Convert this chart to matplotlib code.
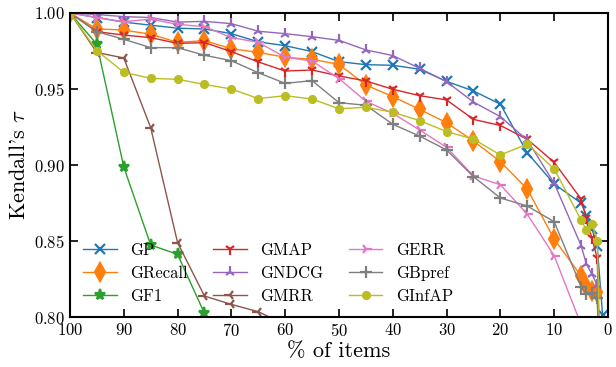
import matplotlib
matplotlib.use("Agg")
import matplotlib.pyplot as plt

# --- Data ---
pct = [100, 95, 90, 85, 80, 75, 70, 65, 60, 55, 50, 45, 40, 35, 30, 25, 20, 15, 10, 5, 4, 3, 2, 1]

gp = [1.0, 0.997, 0.994, 0.992, 0.990, 0.9895, 0.9864, 0.981, 0.9785, 0.9746, 0.968, 0.966, 0.9656, 0.963,
      0.955, 0.9487, 0.940, 0.908, 0.8875, 0.875, 0.8667, 0.858, 0.8467, 0.801]
grecall = [1.0, 0.9895, 0.9888, 0.986, 0.9807, 0.9818, 0.9765, 0.9741, 0.9709, 0.9695, 0.9662, 0.9526, 0.945,
           0.9366, 0.9278, 0.9158, 0.9022, 0.8842, 0.8513, 0.827, 0.8206, 0.8173, 0.8164, 0.70]
gf1 = [1.0, 0.9794, 0.8987, 0.8474, 0.8412, 0.8024, 0.70, 0.65, 0.60, 0.55, 0.50, 0.45, 0.40, 0.35,
       0.30, 0.25, 0.20, 0.15, 0.10, 0.05, 0.04, 0.03, 0.02, 0.01]
gmap = [1.0, 0.9877, 0.9855, 0.9838, 0.980, 0.9805, 0.9746, 0.9678, 0.9618, 0.9625, 0.9586, 0.9553, 0.9498,
        0.9456, 0.9428, 0.930, 0.926, 0.9169, 0.9018, 0.8776, 0.865, 0.852, 0.8386, 0.70]
gndcg = [1.0, 0.999, 0.9976, 0.997, 0.994, 0.9945, 0.993, 0.988, 0.9864, 0.9844, 0.982, 0.9757, 0.972,
         0.9636, 0.9548, 0.9414, 0.9318, 0.9164, 0.888, 0.847, 0.8347, 0.8283, 0.821, 0.70]
gmrr = [1.0, 0.974, 0.9704, 0.9246, 0.8489, 0.8138, 0.8083, 0.8035, 0.795, 0.78, 0.77, 0.76, 0.75, 0.74,
        0.73, 0.72, 0.71, 0.70, 0.69, 0.68, 0.67, 0.66, 0.65, 0.64]
gerr = [1.0, 0.997, 0.9943, 0.996, 0.9925, 0.991, 0.9838, 0.9807, 0.9709, 0.9684, 0.9568, 0.9419, 0.934,
        0.923, 0.9116, 0.8928, 0.887, 0.8676, 0.8403, 0.795, 0.79, 0.78, 0.77, 0.70]
gbpref = [1.0, 0.9877, 0.9827, 0.9772, 0.9772, 0.9722, 0.9686, 0.9607, 0.9537, 0.9555, 0.941, 0.9393, 0.9268,
          0.919, 0.9099, 0.8923, 0.8783, 0.873, 0.8627, 0.820, 0.8151, 0.8155, 0.8123, 0.70]
ginfap = [1.0, 0.9752, 0.961, 0.957, 0.9564, 0.953, 0.950, 0.9437, 0.9456, 0.9434, 0.937, 0.938, 0.9347,
          0.9292, 0.922, 0.917, 0.9066, 0.9138, 0.8974, 0.8638, 0.8572, 0.8612, 0.8502, 0.70]

series = [
    ("GP", gp, "x"),
    ("GRecall", grecall, "d"),
    ("GF1", gf1, "*"),
    ("GMAP", gmap, "1"),
    ("GNDCG", gndcg, "2"),
    ("GMRR", gmrr, "3"),
    ("GERR", gerr, "4"),
    ("GBpref", gbpref, "+"),
    ("GInfAP", ginfap, "."),
]
sizes = {"x": 7, "d": 9, "*": 8, "1": 8, "2": 8, "3": 8, "4": 8, "+": 9, ".": 10}

# --- Style ---
plt.rcParams["font.family"] = "cmr10"
plt.rcParams["mathtext.fontset"] = "cm"
plt.rcParams["axes.formatter.use_mathtext"] = True

fig = plt.figure(figsize=(6.16, 3.67), dpi=100)
ax = fig.add_axes([0.1136, 0.1362, 0.8734, 0.8284])

for i, (name, vals, mk) in enumerate(series):
    ax.plot(pct, vals, marker=mk, color="C%d" % i, label=name, lw=1.0,
            ms=sizes[mk], mew=1.6)

ax.set_xlim(100, 0)
ax.set_ylim(0.80, 1.00)
ax.set_xticks(range(100, -1, -10))
ax.set_yticks([0.80, 0.85, 0.90, 0.95, 1.00])
ax.tick_params(direction="in", top=True, right=True, length=6, width=1.2, labelsize=12)
for s in ax.spines.values():
    s.set_linewidth(1.5)

ax.set_xlabel("% of items", fontsize=16, labelpad=2)
ax.set_ylabel(r"Kendall's $\tau$", fontsize=16)

ax.legend(loc="lower left", ncol=3, frameon=False, fontsize=12,
          handlelength=2.0, columnspacing=1.55, labelspacing=0.45,
          borderaxespad=0.4)

plt.savefig("out.png", dpi=100)
